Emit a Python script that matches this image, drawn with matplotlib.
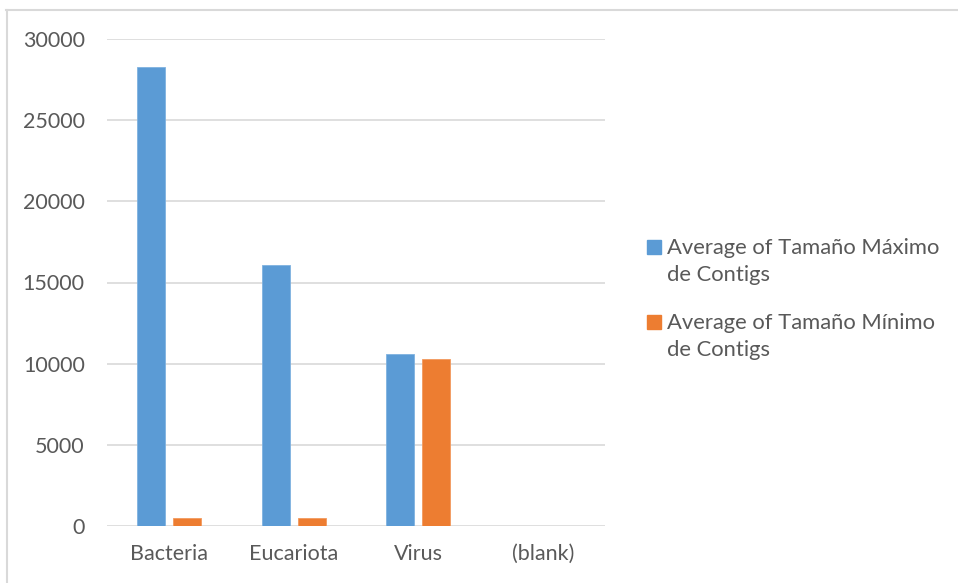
import matplotlib.pyplot as plt
import numpy as np
from matplotlib.lines import Line2D
from matplotlib.patches import Rectangle

plt.rcParams.update({
    "font.family": ["Lato", "DejaVu Sans"],
    "font.size": 15.5,
})

# --- Data ---
categories = ["Bacteria", "Eucariota", "Virus", "(blank)"]
max_contigs = [28300, 16100, 10580, np.nan]
min_contigs = [500, 500, 10290, np.nan]
series_labels = ["Average of Tamaño Máximo\nde Contigs",
                 "Average of Tamaño Mínimo\nde Contigs"]

BLUE = "#5B9BD5"
ORANGE = "#ED7D31"
TEXT = "#595959"
GRID = "#D9D9D9"

W, H = 958, 583
fig = plt.figure(figsize=(W / 100, H / 100), dpi=100)
ax = fig.add_axes([107 / W, 1 - 526 / H, (605 - 107) / W, (526 - 39) / H])

x = np.arange(len(categories))
bw = 0.225
off = 0.145
ax.bar(x - off, max_contigs, bw, color=BLUE, edgecolor="#7FB2E0", lw=0.6, zorder=3)
ax.bar(x + off, min_contigs, bw, color=ORANGE, edgecolor="#F29A5E", lw=0.6, zorder=3)

ax.set_xlim(-0.5, len(categories) - 0.5)
ax.set_ylim(0, 30000)
ax.set_yticks(np.arange(0, 30001, 5000))
ax.set_xticks(x)
ax.set_xticklabels(categories)
ax.grid(axis="y", color=GRID, lw=1.2, zorder=0)
for s in ax.spines.values():
    s.set_visible(False)
ax.tick_params(length=0, colors=TEXT, labelsize=15.5)
ax.tick_params(axis="y", pad=16)
ax.tick_params(axis="x", pad=13)

# legend (square aligned with first text line, as in Excel)
for i, (lab, col) in enumerate(zip(series_labels, [BLUE, ORANGE])):
    base = 253 + i * 75
    fig.add_artist(Rectangle((647 / W, 1 - (base + 0.5) / H), 14 / W, 14 / H,
                             transform=fig.transFigure, color=col))
    # multi-line baseline alignment uses the last line
    fig.text(667 / W, 1 - (base + 28) / H, lab, va="baseline", ha="left",
             color=TEXT, fontsize=15.8, linespacing=1.45)

# chart frame
fig.add_artist(Line2D([6 / W, 1], [1 - 9.5 / H, 1 - 9.5 / H], color=GRID, lw=1.5))
fig.add_artist(Line2D([6.5 / W, 6.5 / W], [0, 1 - 9.5 / H], color=GRID, lw=1.5))

fig.savefig("out.png", dpi=100)
